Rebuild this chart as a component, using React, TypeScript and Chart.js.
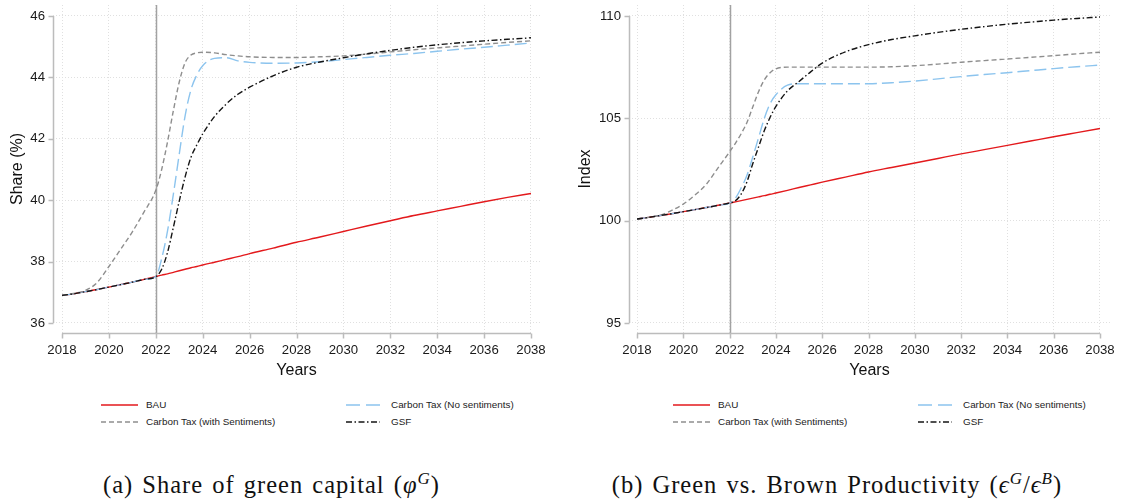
import React, { useEffect, useRef } from "react";
import { Chart, registerables } from "chart.js";

Chart.register(...registerables);

// ---------- data ----------
const years = [
  2018, 2018.5, 2019, 2019.5, 2020, 2020.5, 2021, 2021.5, 2022,
  2022.25, 2022.5, 2022.75, 2023, 2023.25, 2023.5, 2023.75, 2024,
  2024.5, 2025, 2025.5,
  2026, 2027, 2028, 2029, 2030, 2031, 2032, 2033, 2034, 2035, 2036, 2037, 2038,
];
const xTickYears = [2018, 2020, 2022, 2024, 2026, 2028, 2030, 2032, 2034, 2036, 2038];
const policyYear = 2022;

const seriesLabels = ["BAU", "Carbon Tax (No sentiments)", "Carbon Tax (with Sentiments)", "GSF"];

// Panel (a): share of green capital (%)
const shareTicks = [36, 38, 40, 42, 44, 46];
const shareBAU = [
  36.9, 36.95, 37.02, 37.09, 37.17, 37.25, 37.33, 37.42, 37.51,
  37.56, 37.6, 37.65, 37.7, 37.75, 37.8, 37.84, 37.89,
  37.98, 38.07, 38.16,
  38.26, 38.44, 38.63, 38.8, 38.98, 39.16, 39.33, 39.5, 39.65, 39.8, 39.95, 40.09, 40.22,
];
const shareNoSent = [
  36.9, 36.95, 37.02, 37.09, 37.17, 37.25, 37.33, 37.42, 37.51,
  38.1, 39.0, 40.2, 41.5, 42.75, 43.6, 44.08, 44.38,
  44.62, 44.64, 44.54,
  44.49, 44.46, 44.47, 44.51, 44.58, 44.65, 44.72, 44.78, 44.85, 44.92, 44.98, 45.05, 45.12,
];
const shareSent = [
  36.9, 36.96, 37.06, 37.32, 37.84, 38.4, 38.97, 39.62, 40.32,
  41.0, 41.9, 42.92, 43.85, 44.48, 44.73, 44.8, 44.82,
  44.8, 44.74, 44.7,
  44.67, 44.65, 44.65, 44.67, 44.7, 44.76, 44.83, 44.9, 44.96, 45.02, 45.08, 45.14, 45.19,
];
const shareGSF = [
  36.9, 36.95, 37.02, 37.09, 37.17, 37.25, 37.33, 37.42, 37.51,
  37.75, 38.3, 39.12, 39.97, 40.76, 41.4, 41.8, 42.16,
  42.72, 43.13, 43.45,
  43.68, 44.05, 44.33, 44.5, 44.64, 44.77, 44.88, 44.98, 45.06, 45.13, 45.19, 45.24, 45.29,
];

// Panel (b): green vs brown productivity index
const prodTicks = [95, 100, 105, 110];
const prodBAU = [
  100.08, 100.16, 100.25, 100.34, 100.44, 100.54, 100.64, 100.75, 100.86,
  100.92, 100.98, 101.04, 101.1, 101.16, 101.22, 101.29, 101.35,
  101.48, 101.62, 101.75,
  101.88, 102.13, 102.38, 102.6, 102.82, 103.04, 103.26, 103.47, 103.68, 103.89, 104.1, 104.3, 104.5,
];
const prodNoSent = [
  100.08, 100.16, 100.25, 100.34, 100.44, 100.54, 100.64, 100.75, 100.86,
  101.1, 101.6, 102.22, 103.11, 104.05, 105.0, 105.72, 106.15,
  106.62, 106.69, 106.69,
  106.69, 106.69, 106.69, 106.74, 106.82, 106.93, 107.04, 107.14, 107.23, 107.33, 107.43, 107.52, 107.6,
];
const prodSent = [
  100.08, 100.16, 100.27, 100.5, 100.81, 101.25, 101.79, 102.58, 103.36,
  103.78, 104.25, 104.8, 105.55, 106.3, 106.88, 107.23, 107.42,
  107.5, 107.5, 107.5,
  107.5, 107.5, 107.5, 107.52, 107.57, 107.65, 107.74, 107.82, 107.9, 107.98, 108.06, 108.15, 108.23,
];
const prodGSF = [
  100.08, 100.16, 100.25, 100.34, 100.44, 100.54, 100.64, 100.75, 100.86,
  100.97, 101.3, 101.9, 102.78, 103.6, 104.4, 105.05, 105.58,
  106.34, 106.8, 107.27,
  107.7, 108.25, 108.6, 108.85, 109.03, 109.2, 109.35, 109.48, 109.6, 109.7, 109.8, 109.88, 109.95,
];

// ---------- styles ----------
const RED = "#e3191c";
const BLUE = "#8cc4ee";
const GRAY = "#8e8e8e";
const BLACK = "#141414";
const AXIS = "#bcbcbc";
const SANS = "'Liberation Sans', Arial, sans-serif";
const SERIF = "'Liberation Serif', 'Times New Roman', serif";

const styles = [
  { color: RED, dash: [] as number[], legendDash: "" },
  { color: BLUE, dash: [12, 5], legendDash: "14 6" },
  { color: GRAY, dash: [5, 3], legendDash: "5 3" },
  { color: BLACK, dash: [6, 2.5, 1.5, 2.5], legendDash: "6 2.5 1.5 2.5" },
];

const CANVAS_H = 384;
const AREA_BOTTOM = 333;

const statAxes = {
  id: "statAxes",
  beforeDatasetsDraw(chart: any) {
    const { ctx, chartArea, scales } = chart;
    const x = scales.x;
    ctx.save();
    const px = Math.round(x.getPixelForValue(policyYear)) + 0.5;
    ctx.strokeStyle = "#a2a2a2";
    ctx.lineWidth = 1.5;
    ctx.setLineDash([]);
    ctx.beginPath();
    ctx.moveTo(px, chartArea.top);
    ctx.lineTo(px, chartArea.bottom);
    ctx.stroke();
    ctx.restore();
  },
  afterDraw(chart: any) {
    const { ctx, chartArea, scales } = chart;
    const x = scales.x;
    const y = scales.y;
    const yt: number[] = chart.options.plugins.statAxes.yTicks;
    ctx.save();
    ctx.strokeStyle = AXIS;
    ctx.lineWidth = 1.5;
    ctx.setLineDash([]);
    const ax = chartArea.left + 0.5;
    const yTop = y.getPixelForValue(yt[yt.length - 1]);
    const yBot = y.getPixelForValue(yt[0]);
    ctx.beginPath();
    ctx.moveTo(ax, yTop);
    ctx.lineTo(ax, yBot);
    for (const v of yt) {
      const p = Math.round(y.getPixelForValue(v)) + 0.5;
      ctx.moveTo(ax, p);
      ctx.lineTo(ax - 5, p);
    }
    ctx.stroke();
    const by = chartArea.bottom + 0.5;
    ctx.beginPath();
    ctx.moveTo(x.getPixelForValue(xTickYears[0]), by);
    ctx.lineTo(x.getPixelForValue(xTickYears[xTickYears.length - 1]), by);
    for (const v of xTickYears) {
      const p = Math.round(x.getPixelForValue(v)) + 0.5;
      ctx.moveTo(p, by);
      ctx.lineTo(p, by + 5);
    }
    ctx.stroke();
    ctx.restore();
  },
};

type PanelSpec = {
  left: number;
  width: number;
  axisWidth: number;
  padRight: number;
  xMin: number;
  xMax: number;
  yMin: number;
  yMax: number;
  yTicks: number[];
  yTitle: string;
  yTitlePad: number;
  series: number[][];
};

function Panel({ spec }: { spec: PanelSpec }) {
  const ref = useRef<HTMLCanvasElement>(null);
  useEffect(() => {
    const canvas = ref.current!;
    const order = [3, 2, 1, 0];
    const datasets = order.map((i) => ({
      label: seriesLabels[i],
      data: years.map((yr, k) => ({ x: yr, y: spec.series[i][k] })),
      borderColor: styles[i].color,
      borderDash: styles[i].dash,
      borderWidth: 1.4,
      pointRadius: 0,
      fill: false,
      cubicInterpolationMode: "monotone" as const,
    }));
    const gridCommon = {
      display: true,
      drawTicks: false,
      color: "#e0e0e0",
      lineWidth: 1,
    };
    const chart = new Chart(canvas, {
      type: "line",
      data: { datasets },
      options: {
        animation: false,
        responsive: false,
        devicePixelRatio: 1,
        events: [],
        layout: { padding: { top: 5, right: spec.padRight, left: 0, bottom: 0 } },
        plugins: {
          legend: { display: false },
          tooltip: { enabled: false },
          statAxes: { yTicks: spec.yTicks },
        } as any,
        scales: {
          x: {
            type: "linear",
            min: spec.xMin,
            max: spec.xMax,
            afterBuildTicks: (s: any) => {
              s.ticks = xTickYears.map((v) => ({ value: v }));
            },
            afterFit: (s: any) => {
              s.height = CANVAS_H - AREA_BOTTOM;
              s.paddingLeft = 0;
              s.paddingRight = 0;
            },
            ticks: {
              callback: (v: any) => String(v),
              font: { family: SANS, size: 13.2 },
              color: "#1a1a1a",
              padding: 9,
              maxRotation: 0,
              autoSkip: false,
            },
            grid: gridCommon,
            border: { display: false, dash: [1, 2] },
            title: {
              display: true,
              text: "Years",
              font: { family: SANS, size: 16 },
              color: "#111",
              padding: { top: 0, bottom: 4 },
            },
          },
          y: {
            type: "linear",
            min: spec.yMin,
            max: spec.yMax,
            afterBuildTicks: (s: any) => {
              s.ticks = spec.yTicks.map((v) => ({ value: v }));
            },
            afterFit: (s: any) => {
              s.width = spec.axisWidth;
              s.paddingTop = 0;
              s.paddingBottom = 0;
            },
            ticks: {
              callback: (v: any) => String(v),
              font: { family: SANS, size: 13.2 },
              color: "#1a1a1a",
              padding: 8,
              autoSkip: false,
            },
            grid: gridCommon,
            border: { display: false, dash: [1, 2] },
            title: {
              display: true,
              text: spec.yTitle,
              font: { family: SANS, size: 16 },
              color: "#111",
              padding: { top: spec.yTitlePad, bottom: 0 },
            },
          },
        },
      } as any,
      plugins: [statAxes],
    });
    return () => chart.destroy();
  }, []);
  return (
    <canvas
      ref={ref}
      width={spec.width}
      height={CANVAS_H}
      style={{ position: "absolute", left: spec.left, top: 0, width: spec.width, height: CANVAS_H }}
    />
  );
}

function LegendItem({ lineX1, lineX2, textX, y, idx }: any) {
  const st = styles[idx];
  return (
    <>
      <svg
        style={{ position: "absolute", left: lineX1, top: y - 3, overflow: "visible" }}
        width={lineX2 - lineX1}
        height={6}
      >
        <line
          x1={0}
          y1={3}
          x2={lineX2 - lineX1}
          y2={3}
          stroke={st.color}
          strokeWidth={1.3}
          strokeDasharray={st.legendDash || undefined}
        />
      </svg>
      <div
        style={{
          position: "absolute",
          left: textX,
          top: y - 7,
          height: 14,
          lineHeight: "14px",
          fontFamily: SANS,
          fontSize: 9.9,
          color: "#222",
          whiteSpace: "nowrap",
        }}
      >
        {seriesLabels[idx]}
      </div>
    </>
  );
}

function Legend({ c1, c2 }: { c1: number[]; c2: number[] }) {
  const rows = [405, 422];
  return (
    <>
      <LegendItem lineX1={c1[0]} lineX2={c1[1]} textX={c1[2]} y={rows[0]} idx={0} />
      <LegendItem lineX1={c2[0]} lineX2={c2[1]} textX={c2[2]} y={rows[0]} idx={1} />
      <LegendItem lineX1={c1[0]} lineX2={c1[1]} textX={c1[2]} y={rows[1]} idx={2} />
      <LegendItem lineX1={c2[0]} lineX2={c2[1]} textX={c2[2]} y={rows[1]} idx={3} />
    </>
  );
}

function Caption({ center, children }: any) {
  return (
    <div
      style={{
        position: "absolute",
        left: center - 300,
        width: 600,
        top: 471,
        height: 28,
        lineHeight: "28px",
        textAlign: "center",
        fontFamily: SERIF,
        fontSize: 24.5,
        letterSpacing: 1.0,
        wordSpacing: 2,
        color: "#111",
        whiteSpace: "nowrap",
      }}
    >
      {children}
    </div>
  );
}

const supStyle = { fontSize: 17, fontStyle: "italic", verticalAlign: 9, lineHeight: 0 } as const;

const specA: PanelSpec = {
  left: 0,
  width: 560,
  axisWidth: 53,
  padRight: 20,
  xMin: 2017.616,
  xMax: 2038.384,
  yMin: 35.674,
  yMax: 46.358,
  yTicks: shareTicks,
  yTitle: "Share (%)",
  yTitlePad: 8,
  series: [shareBAU, shareNoSent, shareSent, shareGSF],
};

const specB: PanelSpec = {
  left: 560,
  width: 561,
  axisWidth: 69,
  padRight: 11,
  xMin: 2017.654,
  xMax: 2038.432,
  yMin: 94.511,
  yMax: 110.537,
  yTicks: prodTicks,
  yTitle: "Index",
  yTitlePad: 16,
  series: [prodBAU, prodNoSent, prodSent, prodGSF],
};

export default function App() {
  return (
    <div
      style={{
        position: "absolute",
        left: 0,
        top: 0,
        width: 1121,
        height: 503,
        background: "#fff",
        overflow: "hidden",
      }}
    >
      <Panel spec={specA} />
      <Panel spec={specB} />
      <Legend c1={[101, 138, 146]} c2={[346, 380, 391]} />
      <Legend c1={[673, 710, 718]} c2={[918, 952, 963]} />
      <Caption center={271.5}>
        (a) Share of green capital (<i>φ</i>
        <sup style={supStyle}>G</sup>)
      </Caption>
      <Caption center={837}>
        (b) Green vs. Brown Productivity (<i>ϵ</i>
        <sup style={supStyle}>G</sup>
        /<i>ϵ</i>
        <sup style={supStyle}>B</sup>)
      </Caption>
    </div>
  );
}
